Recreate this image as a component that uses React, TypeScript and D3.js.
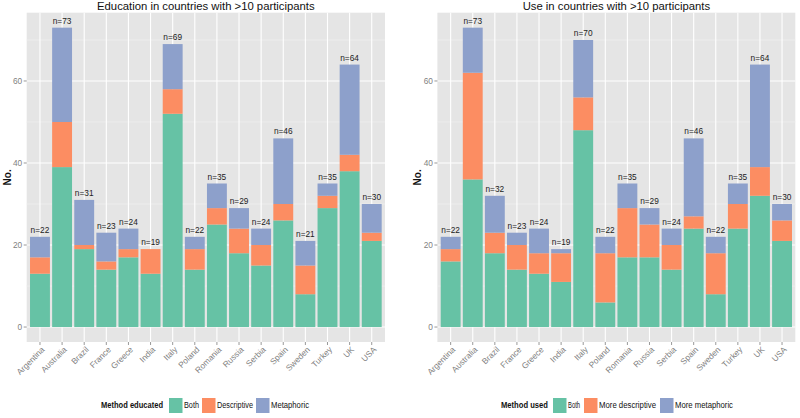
// @ts-nocheck
import React from "react";
import * as d3 from "d3";

const countries = [
  "Argentina", "Australia", "Brazil", "France", "Greece", "India", "Italy", "Poland",
  "Romania", "Russia", "Serbia", "Spain", "Sweden", "Turkey", "UK", "USA",
];

// Education panel
const eduBoth = [13, 39, 19, 14, 17, 13, 52, 14, 25, 18, 15, 26, 8, 29, 38, 21];
const eduDescriptive = [4, 11, 1, 2, 2, 6, 6, 5, 4, 6, 5, 4, 7, 3, 4, 2];
const eduMetaphoric = [5, 23, 11, 7, 5, 0, 11, 3, 6, 5, 4, 16, 6, 3, 22, 7];

// Use panel
const useBoth = [16, 36, 18, 14, 13, 11, 48, 6, 17, 17, 14, 24, 8, 24, 32, 21];
const useDescriptive = [3, 26, 5, 6, 5, 7, 8, 12, 12, 8, 6, 3, 10, 6, 7, 5];
const useMetaphoric = [3, 11, 9, 3, 6, 1, 14, 4, 6, 4, 4, 19, 4, 5, 25, 4];

const colors = ["#66C2A5", "#FC8D62", "#8DA0CB"];
const yTicks = [0, 20, 40, 60];
const yMinor = [10, 30, 50, 70];

const font = "'Liberation Sans', Arial, Helvetica, sans-serif";

const Panel = ({ title, series, keys, legendTitle, x0, x1, legendX, titleW, keyXs, keyTextW }) => {
  const top = 12.7;
  const bottom = 342;
  const rows = countries.map((c, i) => {
    const r = { country: c };
    keys.forEach((k, j) => (r[k] = series[j][i]));
    return r;
  });
  const stack = d3.stack().keys(keys)(rows);
  const maxTotal = d3.max(rows, (r) => d3.sum(keys, (k) => r[k]));
  const pad = maxTotal * 0.05;
  const y = d3.scaleLinear().domain([-pad, maxTotal + pad]).range([bottom, top]);
  const x = d3.scaleBand().domain(countries).range([x0, x1]).paddingInner(0.1).paddingOuter(0.15);
  const bw = x.bandwidth();
  const cx = (c) => x(c) + bw / 2;

  const keyW = 13.5;
  const legendY = 398;

  return (
    <g>
      <text x={(x0 + x1) / 2} y={10} textAnchor="middle" fontSize={11.3} fill="#111">
        {title}
      </text>
      <rect x={x0} y={top} width={x1 - x0} height={bottom - top} fill="#E5E5E5" />
      {yMinor.map((t) => (
        <line key={"m" + t} x1={x0} x2={x1} y1={y(t)} y2={y(t)} stroke="#F2F2F2" strokeWidth={0.6} />
      ))}
      {yTicks.map((t) => (
        <line key={"g" + t} x1={x0} x2={x1} y1={y(t)} y2={y(t)} stroke="#FFFFFF" strokeWidth={1.1} />
      ))}
      {countries.map((c) => (
        <line key={"v" + c} x1={cx(c)} x2={cx(c)} y1={top} y2={bottom} stroke="#FFFFFF" strokeWidth={1.1} />
      ))}
      {stack.map((layer, j) =>
        layer.map((d, i) =>
          d[1] - d[0] > 0 ? (
            <rect
              key={j + "-" + i}
              x={x(countries[i])}
              y={y(d[1])}
              width={bw}
              height={y(d[0]) - y(d[1])}
              fill={colors[j]}
            />
          ) : null
        )
      )}
      {rows.map((r) => {
        const total = d3.sum(keys, (k) => r[k]);
        return (
          <text
            key={"n" + r.country}
            x={cx(r.country)}
            y={y(total) - 4}
            textAnchor="middle"
            fontSize={8.3}
            fill="#222"
          >
            {"n=" + total}
          </text>
        );
      })}
      {yTicks.map((t) => (
        <g key={"t" + t}>
          <line x1={x0 - 3} x2={x0} y1={y(t)} y2={y(t)} stroke="#7F7F7F" strokeWidth={0.8} />
          <text x={x0 - 4.5} y={y(t)} dy="0.35em" textAnchor="end" fontSize={8.3} fill="#7F7F7F">
            {t}
          </text>
        </g>
      ))}
      {countries.map((c) => (
        <g key={"xt" + c}>
          <line x1={cx(c)} x2={cx(c)} y1={bottom} y2={bottom + 3} stroke="#7F7F7F" strokeWidth={0.8} />
          <text
            transform={`translate(${cx(c) + 1},${bottom + 4}) rotate(-45)`}
            dy="0.71em"
            textAnchor="end"
            fontSize={8.3}
            fill="#7F7F7F"
          >
            {c}
          </text>
        </g>
      ))}
      <text
        transform={`translate(${x0 - 16},${(top + bottom) / 2}) rotate(-90)`}
        textAnchor="middle"
        fontSize={10}
        fontWeight="bold"
        fill="#111"
      >
        No.
      </text>
      <text
        x={legendX}
        y={legendY + 10}
        fontSize={8.3}
        fontWeight="bold"
        fill="#111"
        textLength={titleW}
        lengthAdjust="spacingAndGlyphs"
      >
        {legendTitle}
      </text>
      {keys.map((k, j) => (
        <g key={"lg" + k}>
          <rect x={keyXs[j]} y={legendY} width={keyW} height={15} fill={colors[j]} />
          <text
            x={keyXs[j] + keyW + 1.5}
            y={legendY + 10}
            fontSize={8.3}
            fill="#111"
            textLength={keyTextW[j]}
            lengthAdjust="spacingAndGlyphs"
          >
            {k}
          </text>
        </g>
      ))}
    </g>
  );
};

export default function App() {
  return (
    <svg
      width={800}
      height={418}
      style={{ position: "absolute", left: 0, top: 0, fontFamily: font, background: "#fff" }}
    >
      <Panel
        title="Education in countries with >10 participants"
        series={[eduBoth, eduDescriptive, eduMetaphoric]}
        keys={["Both", "Descriptive", "Metaphoric"]}
        legendTitle="Method educated"
        x0={26.7}
        x1={385}
        legendX={101}
        titleW={62}
        keyXs={[169, 202, 256]}
        keyTextW={[15, 36, 38]}
      />
      <Panel
        title="Use in countries with >10 participants"
        series={[useBoth, useDescriptive, useMetaphoric]}
        keys={["Both", "More descriptive", "More metaphoric"]}
        legendTitle="Method used"
        x0={437.4}
        x1={795.3}
        legendX={501}
        titleW={47}
        keyXs={[553, 584, 660]}
        keyTextW={[12, 57, 58]}
      />
    </svg>
  );
}
